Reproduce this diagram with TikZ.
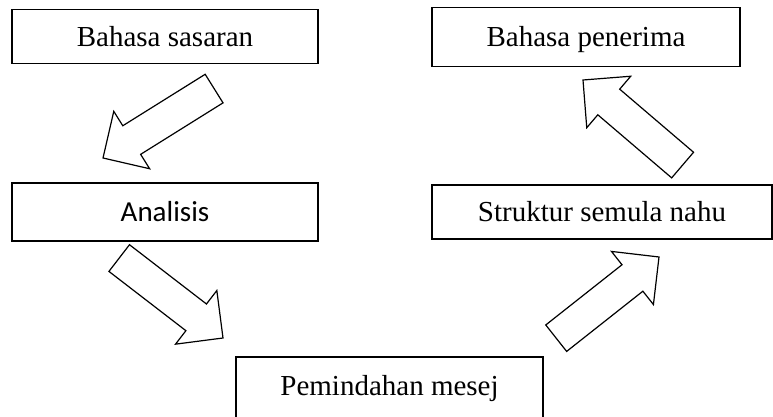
\documentclass[tikz,border=0pt]{standalone}
\usepackage{fontspec}
\setmainfont{Liberation Serif}
\newfontfamily\calibrifont{Carlito}
\usepackage{tikz}
\usetikzlibrary{shapes,arrows}
\tikzstyle{block} = [draw, fill=white, rectangle, line width=1.6pt,
minimum height=54pt, minimum width=306pt, text height=20pt, text depth=0pt,
font=\fontsize{29}{34}\selectfont]
\tikzstyle{fatarrow} = [draw, single arrow, line width=1.2pt, anchor=tip,
minimum height=131pt, minimum width=0pt, inner xsep=0pt, inner ysep=16.25pt,
single arrow head extend=17pt, single arrow tip angle=90, outer sep=0pt]

\begin{document}
\begin{tikzpicture}[x=1pt, y=1pt, node distance=175.5pt]
	\useasboundingbox (0,0) rectangle (773,417);

	\node [block] (sasaran) at (165,380.5) {Bahasa sasaran};
	\node [block, below of=sasaran, minimum height=58pt,
		font=\calibrifont\fontsize{29}{34}\selectfont] (analisis) {Analisis};
	\node [block, minimum width=307pt, minimum height=64pt, text depth=6pt] (pemindahan) at (389.5,28) {Pemindahan mesej};
	\node [block, minimum width=340pt] (struktur) at (602,205) {Struktur semula nahu};
	\node [block, minimum width=308pt, minimum height=59pt] (penerima) at (586,380) {Bahasa penerima};

	% block arrows between the stages
	\node [fatarrow, rotate=212] (sasaran-analisis) at (103,259) {};
	\node [fatarrow, rotate=-37.6] (analisis-pemindahan) at (223,79) {};
	\node [fatarrow, rotate=38.3] (pemindahan-struktur) at (659,160) {};
	\node [fatarrow, rotate=139.5] (struktur-penerima) at (583,337) {};

\end{tikzpicture}
\end{document}
